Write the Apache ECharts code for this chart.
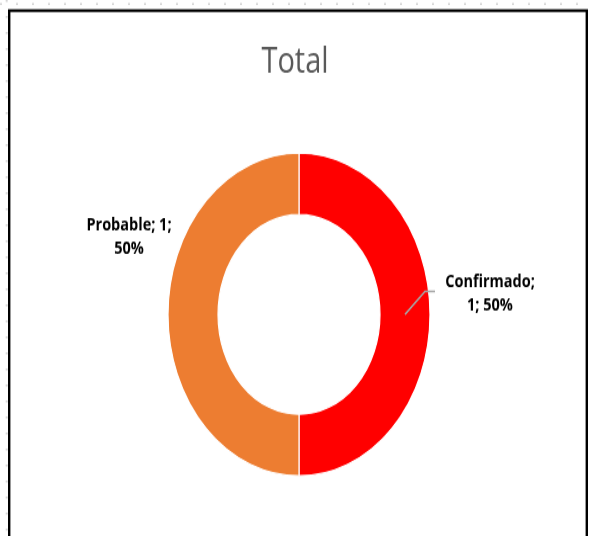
<!DOCTYPE html>
<html>
<head>
<meta charset="utf-8">
<script src="https://cdn.jsdelivr.net/npm/echarts@6/dist/echarts.min.js"></script>
<style>
html,body{margin:0;padding:0;background:#fff;}
#wrap{width:590px;height:536px;overflow:hidden;position:relative;background:#fff;}
#main{width:590px;height:435px;transform:scaleY(1.2322);transform-origin:0 0;}
</style>
</head>
<body>
<div id="wrap"><div id="main"></div></div>
<script>
// Data
const titleText = 'Total';
const categories = ['Confirmado', 'Probable'];
const values = [1, 1];
const colors = ['#FF0000', '#ED7D31'];

const chart = echarts.init(document.getElementById('main'), null, {renderer: 'canvas'});

const data = categories.map((name, i) => ({
  name: name,
  value: values[i],
  itemStyle: {color: colors[i]}
}));

const labelFont = "'Liberation Sans Narrow', 'Open Sans', sans-serif";

chart.setOption({
  backgroundColor: '#fff',
  animation: false,
  title: {
    text: titleText,
    left: 'center',
    top: 36,
    padding: 0,
    textStyle: {fontFamily: "'Open Sans', sans-serif", fontSize: 29, fontWeight: 'normal', color: '#595959'}
  },
  graphic: [
    {type: 'line', shape: {x1: 0, y1: 3.3, x2: 590, y2: 3.3}, style: {stroke: '#d4d4d4', lineWidth: 1.6, lineDash: [2, 14]}, silent: true},
    {type: 'line', shape: {x1: 6.7, y1: 0, x2: 6.7, y2: 435}, style: {stroke: '#d4d4d4', lineWidth: 2, lineDash: [1.6, 11.4]}, silent: true},
    {type: 'rect', shape: {x: 9.2, y: 8.6, width: 577.6, height: 500}, style: {fill: 'none', stroke: '#000', lineWidth: 2.4}, silent: true, z: 10},
    // leader line of the "Confirmado" data label
    {type: 'polyline', shape: {points: [[405, 255.1], [425, 236.4], [435, 236.4]]}, style: {fill: 'none', stroke: '#A6A6A6', lineWidth: 1.5}, silent: true, z: 20}
  ],
  series: [{
    type: 'pie',
    center: [299, 255.2],
    radius: [81, 131],
    startAngle: 90,
    clockwise: true,
    avoidLabelOverlap: false,
    itemStyle: {borderColor: '#fff', borderWidth: 1.2},
    label: {
      show: true,
      position: 'outside',
      fontFamily: labelFont,
      fontSize: 14.5,
      fontWeight: 'bold',
      color: '#000',
      lineHeight: 19,
      align: 'center',
      formatter: function (p) {
        if (p.dataIndex === 0) return p.name + ';\n' + p.value + '; ' + p.percent + '%';
        return p.name + '; ' + p.value + ';\n' + p.percent + '%';
      }
    },
    labelLine: {show: false},
    labelLayout: function (params) {
      if (params.dataIndex === 0) {
        return {x: 490, y: 238, align: 'center', verticalAlign: 'middle'};
      }
      return {x: 129, y: 192, align: 'center', verticalAlign: 'middle'};
    },
    data: data
  }]
});
</script>
</body>
</html>
